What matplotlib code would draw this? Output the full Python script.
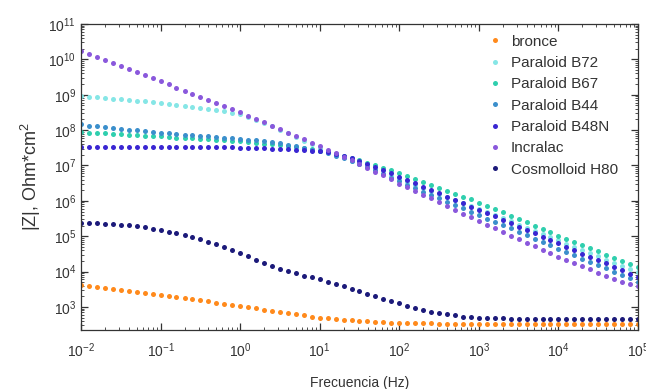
import matplotlib
matplotlib.use("Agg")
import matplotlib.pyplot as plt
from matplotlib.ticker import LogLocator, NullFormatter, FixedLocator, LogFormatterSciNotation
import numpy as np

plt.rcParams['font.family'] = ['Liberation Sans', 'DejaVu Sans']
plt.rcParams['mathtext.fontset'] = 'custom'
plt.rcParams['mathtext.rm'] = 'Liberation Sans'
plt.rcParams['mathtext.it'] = 'Liberation Sans:italic'
plt.rcParams['mathtext.bf'] = 'Liberation Sans:bold'

# Frequency (Hz)
freq = [0.01, 0.0126, 0.0158, 0.02, 0.0251, 0.0316, 0.0398, 0.0501, 0.0631, 0.0794,
        0.1, 0.126, 0.158, 0.2, 0.251, 0.316, 0.398, 0.501, 0.631, 0.794,
        1.0, 1.26, 1.58, 2.0, 2.51, 3.16, 3.98, 5.01, 6.31, 7.94,
        10.0, 12.6, 15.8, 20.0, 25.1, 31.6, 39.8, 50.1, 63.1, 79.4,
        100.0, 126.0, 158.0, 200.0, 251.0, 316.0, 398.0, 501.0, 631.0, 794.0,
        1000.0, 1260.0, 1580.0, 2000.0, 2510.0, 3160.0, 3980.0, 5010.0, 6310.0, 7940.0,
        10000.0, 12600.0, 15800.0, 20000.0, 25100.0, 31600.0, 39800.0, 50100.0, 63100.0, 79400.0,
        100000.0]

x_ticks = [1e-2, 1e-1, 1e0, 1e1, 1e2, 1e3, 1e4, 1e5]
y_ticks = [1e3, 1e4, 1e5, 1e6, 1e7, 1e8, 1e9, 1e10, 1e11]

# log10 |Z| (Ohm*cm^2)
bronce = [3.62, 3.60, 3.57, 3.55, 3.52, 3.49, 3.46, 3.43, 3.40, 3.37,
          3.35, 3.32, 3.29, 3.26, 3.22, 3.19, 3.16, 3.12, 3.09, 3.06,
          3.03, 2.99, 2.96, 2.92, 2.89, 2.86, 2.82, 2.79, 2.76, 2.73,
          2.70, 2.68, 2.66, 2.64, 2.62, 2.60, 2.59, 2.58, 2.57, 2.56,
          2.55, 2.55, 2.54, 2.54, 2.54, 2.53, 2.53, 2.53, 2.53, 2.53,
          2.53, 2.53, 2.53, 2.53, 2.53, 2.53, 2.53, 2.53, 2.53, 2.53,
          2.53, 2.53, 2.53, 2.53, 2.52, 2.52, 2.52, 2.52, 2.52, 2.52,
          2.52]
b72 = [8.97, 8.95, 8.93, 8.91, 8.89, 8.87, 8.85, 8.83, 8.81, 8.79,
       8.77, 8.74, 8.72, 8.69, 8.66, 8.63, 8.60, 8.56, 8.53, 8.49,
       8.45, 8.38, 8.30, 8.21, 8.11, 8.01, 7.91, 7.80, 7.70, 7.60,
       7.50, 7.41, 7.32, 7.23, 7.14, 7.05, 6.97, 6.88, 6.80, 6.71,
       6.63, 6.54, 6.46, 6.37, 6.29, 6.20, 6.12, 6.03, 5.95, 5.86,
       5.78, 5.69, 5.60, 5.51, 5.42, 5.33, 5.24, 5.15, 5.06, 4.97,
       4.88, 4.79, 4.70, 4.61, 4.52, 4.43, 4.34, 4.25, 4.16, 4.07,
       3.98]
b67 = [7.94, 7.93, 7.92, 7.91, 7.89, 7.88, 7.87, 7.86, 7.84, 7.83,
       7.82, 7.81, 7.79, 7.78, 7.77, 7.75, 7.74, 7.72, 7.71, 7.70,
       7.68, 7.66, 7.64, 7.62, 7.60, 7.58, 7.55, 7.52, 7.49, 7.46,
       7.42, 7.38, 7.33, 7.28, 7.22, 7.15, 7.08, 7.01, 6.94, 6.86,
       6.78, 6.70, 6.62, 6.54, 6.46, 6.37, 6.29, 6.20, 6.12, 6.04,
       5.95, 5.86, 5.77, 5.68, 5.58, 5.49, 5.40, 5.30, 5.21, 5.11,
       5.02, 4.93, 4.84, 4.75, 4.66, 4.57, 4.48, 4.39, 4.30, 4.21,
       4.12]
b44 = [8.16, 8.13, 8.11, 8.08, 8.06, 8.04, 8.01, 7.99, 7.97, 7.95,
       7.93, 7.91, 7.89, 7.87, 7.86, 7.84, 7.82, 7.80, 7.79, 7.77,
       7.75, 7.73, 7.71, 7.69, 7.66, 7.63, 7.59, 7.55, 7.50, 7.45,
       7.40, 7.34, 7.28, 7.21, 7.13, 7.05, 6.96, 6.86, 6.76, 6.65,
       6.55, 6.45, 6.36, 6.26, 6.17, 6.07, 5.98, 5.88, 5.79, 5.69,
       5.60, 5.50, 5.41, 5.31, 5.22, 5.12, 5.03, 4.93, 4.84, 4.74,
       4.65, 4.56, 4.46, 4.37, 4.28, 4.19, 4.09, 4.00, 3.91, 3.81,
       3.72]
b48n = [7.51, 7.51, 7.52, 7.52, 7.52, 7.53, 7.53, 7.53, 7.53, 7.53,
        7.53, 7.53, 7.53, 7.53, 7.52, 7.52, 7.52, 7.52, 7.51, 7.51,
        7.50, 7.50, 7.49, 7.49, 7.48, 7.47, 7.46, 7.45, 7.44, 7.42,
        7.40, 7.37, 7.33, 7.28, 7.21, 7.13, 7.05, 6.96, 6.87, 6.78,
        6.68, 6.59, 6.50, 6.40, 6.31, 6.22, 6.12, 6.03, 5.94, 5.84,
        5.75, 5.65, 5.56, 5.46, 5.37, 5.27, 5.18, 5.08, 4.99, 4.89,
        4.80, 4.70, 4.61, 4.51, 4.42, 4.32, 4.23, 4.13, 4.04, 3.94,
        3.85]
incralac = [10.25, 10.16, 10.07, 9.99, 9.90, 9.81, 9.73, 9.64, 9.55, 9.46,
            9.38, 9.29, 9.20, 9.11, 9.03, 8.94, 8.85, 8.76, 8.68, 8.59,
            8.50, 8.41, 8.31, 8.22, 8.12, 8.03, 7.93, 7.84, 7.74, 7.65,
            7.55, 7.45, 7.35, 7.25, 7.15, 7.05, 6.94, 6.83, 6.72, 6.61,
            6.48, 6.38, 6.28, 6.17, 6.07, 5.96, 5.86, 5.75, 5.64, 5.53,
            5.42, 5.32, 5.22, 5.12, 5.02, 4.92, 4.82, 4.72, 4.62, 4.52,
            4.42, 4.33, 4.24, 4.15, 4.06, 3.97, 3.88, 3.80, 3.72, 3.65,
            3.58]
h80 = [5.38, 5.38, 5.37, 5.36, 5.35, 5.33, 5.31, 5.28, 5.25, 5.21,
       5.17, 5.13, 5.09, 5.04, 4.98, 4.92, 4.85, 4.77, 4.69, 4.61,
       4.52, 4.43, 4.34, 4.25, 4.16, 4.08, 4.01, 3.95, 3.89, 3.84,
       3.78, 3.72, 3.65, 3.59, 3.52, 3.45, 3.38, 3.31, 3.24, 3.17,
       3.10, 3.04, 2.98, 2.92, 2.87, 2.83, 2.79, 2.76, 2.73, 2.71,
       2.70, 2.69, 2.68, 2.68, 2.67, 2.67, 2.67, 2.66, 2.66, 2.66,
       2.66, 2.66, 2.66, 2.65, 2.65, 2.65, 2.65, 2.65, 2.65, 2.65,
       2.65]

labels = ['bronce', 'Paraloid B72', 'Paraloid B67', 'Paraloid B44',
          'Paraloid B48N', 'Incralac', 'Cosmolloid H80']
series = [bronce, b72, b67, b44, b48n, incralac, h80]
colors = ['#ff8a1c', '#86e6e6', '#2fcfae', '#3b8fcc', '#3a26d2', '#8a58dc', '#1c1a7a']

fig = plt.figure(figsize=(6.46, 3.89), dpi=100)
ax = fig.add_axes([0.1254, 0.1517, 0.8622, 0.7866])

for lab, vals, c in zip(labels, series, colors):
    ax.plot(freq, [10 ** v for v in vals], linestyle='none', marker='o',
            markersize=3.6, markeredgewidth=0, color=c, label=lab)

ax.set_xscale('log')
ax.set_yscale('log')
ax.set_xlim(1e-2, 1e5)
ax.set_ylim(10 ** 2.35, 1e11)

ax.xaxis.set_major_locator(FixedLocator(x_ticks))
ax.yaxis.set_major_locator(FixedLocator(y_ticks))
ax.xaxis.set_major_formatter(LogFormatterSciNotation())
ax.yaxis.set_major_formatter(LogFormatterSciNotation())
ax.xaxis.set_minor_locator(LogLocator(base=10, subs=np.arange(2, 10), numticks=20))
ax.yaxis.set_minor_locator(LogLocator(base=10, subs=np.arange(2, 10), numticks=20))
ax.xaxis.set_minor_formatter(NullFormatter())
ax.yaxis.set_minor_formatter(NullFormatter())

ax.tick_params(which='both', direction='in', top=True, right=True,
               colors='#333333', labelsize=10)
ax.tick_params(which='major', length=5, width=0.9)
ax.tick_params(which='minor', length=2.5, width=0.6)
ax.tick_params(axis='x', pad=8)
for s in ax.spines.values():
    s.set_color('#333333')
    s.set_linewidth(0.9)

ax.set_xlabel('Frecuencia (Hz)', fontsize=10, color='#333333', labelpad=12)
ax.set_ylabel('|Z|, Ohm*cm$^2$', fontsize=13, color='#333333', labelpad=4)

leg = ax.legend(loc='upper right', frameon=False, fontsize=11,
                labelspacing=0.48, handletextpad=0.5, markerscale=1.0,
                borderaxespad=0.2, handlelength=1.0,
                bbox_to_anchor=(0.98, 0.995))
for t in leg.get_texts():
    t.set_color('#333333')

fig.savefig('out.png', dpi=100)
